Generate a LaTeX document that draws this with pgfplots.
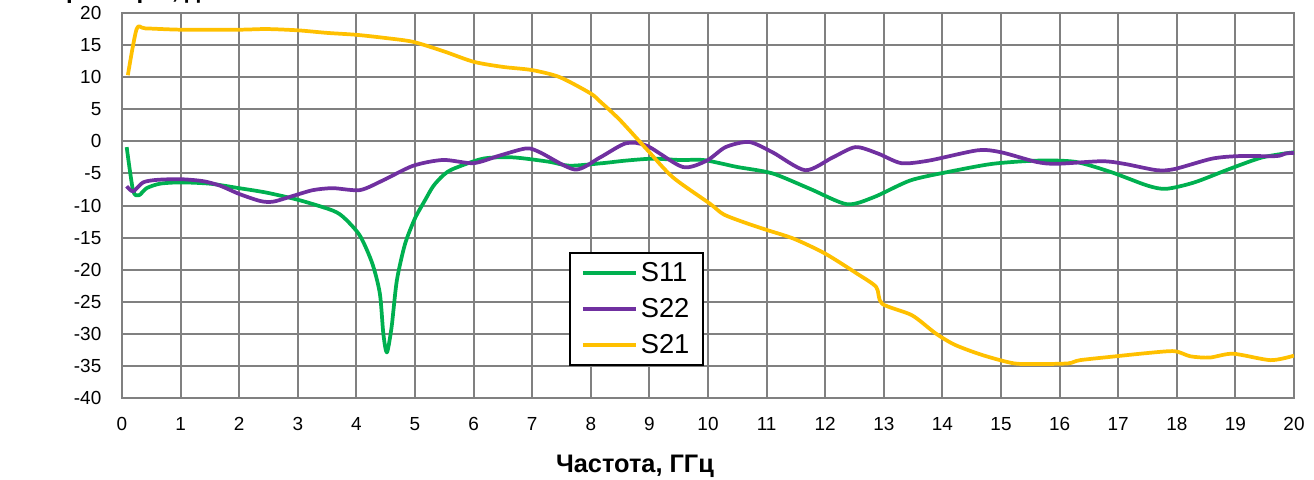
\documentclass[border=0pt]{standalone}
\usepackage{pgfplots}
\pgfplotsset{compat=1.18}
\usepackage{fontspec}
\setmainfont{Liberation Sans}
\usetikzlibrary{calc}
\definecolor{sgreen}{RGB}{0,176,80}
\definecolor{spurple}{RGB}{112,48,160}
\definecolor{syellow}{RGB}{255,192,0}
\definecolor{gridgray}{RGB}{128,128,128}

\begin{document}
\begin{tikzpicture}
\begin{axis}[
  width=879pt, height=288.75pt, scale only axis,
  xmin=0, xmax=20, ymin=-40, ymax=20,
  xtick={0,1,...,20}, ytick={-40,-35,...,20},
  grid=major, major grid style={gridgray, line width=1.5pt},
  axis line style={gridgray, line width=1.5pt},
  tick style={draw=none},
  ticklabel style={font=\fontsize{14.2}{16}\selectfont},
  /pgf/number format/assume math mode=true,
  xticklabel style={yshift=-11pt},
  yticklabel style={xshift=-12pt},
  xlabel={Частота, ГГц},
  xlabel style={font=\bfseries\fontsize{19}{22}\selectfont, at={(axis description cs:0.4377,0)}, anchor=center, yshift=-51pt},
  legend style={at={(axis cs:7.63,-17.2)}, anchor=north west, draw=black, line width=1.5pt, fill=white,
    font=\fontsize{20.5}{24}\selectfont, inner xsep=8pt, inner ysep=5pt, row sep=7.5pt,
    /tikz/every even column/.append style={column sep=5pt}},
  legend cell align=left,
  legend image code/.code={\draw[#1, line width=3pt] (0pt,0pt) -- (40pt,0pt);},
  every axis plot/.append style={line width=2.8pt, line join=round, smooth, tension=0.45},
]
\addplot[sgreen] coordinates {
(0.08,-0.9) (0.19,-7.7) (0.29,-8.4) (0.42,-7.3) (0.65,-6.6) (1.0,-6.4) (1.5,-6.6) (2.0,-7.3)
(2.47,-8.0) (3.04,-9.2) (3.6,-10.8) (3.8,-12.0) (4.06,-14.7) (4.27,-19.0) (4.4,-23.7) (4.46,-30.0)
(4.52,-32.9) (4.6,-29.0) (4.69,-21.7) (4.83,-16.0) (5.0,-12.0) (5.17,-9.2) (5.31,-7.0) (5.48,-5.3)
(5.65,-4.3) (6.16,-2.7) (6.67,-2.5) (7.3,-3.2) (7.64,-3.8) (8.2,-3.4) (8.6,-3.0) (9.06,-2.7)
(9.5,-2.9) (9.91,-2.9) (10.2,-3.4) (10.5,-4.0) (11.1,-5.0) (11.74,-7.4) (12.37,-9.8) (12.83,-8.7)
(13.45,-6.1) (14.08,-4.8) (14.86,-3.5) (15.64,-3.0) (16.27,-3.2) (16.88,-4.8) (17.5,-6.9) (17.82,-7.4)
(18.3,-6.4) (18.9,-4.3) (19.46,-2.5) (20,-1.7)
};
\addlegendentry{S11}
\addplot[spurple] coordinates {
(0.08,-7.0) (0.19,-7.8) (0.36,-6.4) (0.6,-6.0) (1.0,-5.9) (1.38,-6.2) (1.67,-6.9) (2.0,-8.2)
(2.36,-9.3) (2.58,-9.4) (2.92,-8.5) (3.26,-7.6) (3.6,-7.3) (4.06,-7.6) (4.45,-6.1) (4.97,-3.8)
(5.48,-2.9) (6.0,-3.4) (6.45,-2.2) (6.9,-1.1) (7.13,-1.7) (7.73,-4.4) (8.16,-2.5) (8.6,-0.3)
(8.96,-0.7) (9.57,-4.0) (9.98,-3.0) (10.3,-0.9) (10.7,-0.1) (11.1,-1.7) (11.66,-4.5) (12.13,-2.5)
(12.52,-0.9) (12.9,-1.9) (13.3,-3.4) (13.77,-3.0) (14.6,-1.4) (15.0,-1.7) (15.6,-3.2) (15.95,-3.5)
(16.72,-3.1) (17.1,-3.5) (17.66,-4.5) (17.97,-4.3) (18.6,-2.7) (19.06,-2.3) (19.7,-2.3) (19.85,-1.9)
(20,-1.8)
};
\addlegendentry{S22}
\addplot[syellow] coordinates {
(0.1,10.3) (0.25,17.5) (0.4,17.6) (1.0,17.4) (2.0,17.4) (2.47,17.5) (3.0,17.3) (3.5,16.9)
(4.0,16.6) (4.5,16.1) (4.97,15.5) (5.5,14.0) (6.0,12.4) (6.5,11.6) (7.0,11.1) (7.47,10.0)
(7.99,7.5) (8.16,6.2) (8.5,3.3) (8.96,-1.3) (9.4,-5.6) (10.03,-9.7) (10.27,-11.4) (10.67,-12.8)
(11.0,-13.8) (11.47,-15.2) (12.0,-17.5) (12.54,-20.6) (12.87,-22.7) (12.97,-25.3) (13.48,-27.1)
(13.88,-29.9) (14.21,-31.7) (14.68,-33.3) (15.22,-34.6) (15.69,-34.7) (16.15,-34.6) (16.35,-34.1)
(16.96,-33.5) (17.49,-33.0) (17.96,-32.7) (18.23,-33.5) (18.56,-33.7) (18.96,-33.1) (19.6,-34.1)
(20,-33.4)
};
\addlegendentry{S21}
\coordinate (ll) at (rel axis cs:0,0);
\coordinate (ur) at (rel axis cs:1,1);
\end{axis}
\node[anchor=base west, font=\bfseries\fontsize{18}{20}\selectfont, inner sep=0pt] at ($(ll|-ur)+(-81pt,10.9pt)$) {S-параметры, дБ};
\pgfresetboundingbox
\path[use as bounding box] ($(ll)+(-91.5pt,-60.75pt)$) rectangle ($(ur)+(15pt,9.75pt)$);
\end{tikzpicture}
\end{document}
